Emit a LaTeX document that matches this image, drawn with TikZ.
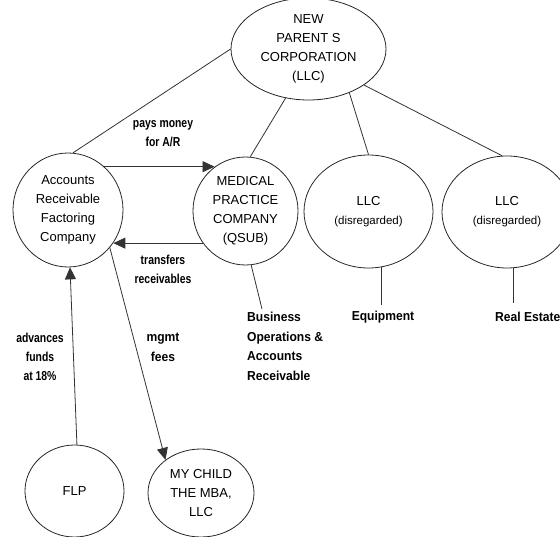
\documentclass[tikz,border=0pt]{standalone}
\usepackage{fontspec}
\setmainfont{Liberation Sans}
\newfontfamily\lblfont[FakeStretch=0.93]{Liberation Sans}
\newfontfamily\lblnarrowfont[FakeStretch=0.8]{Liberation Sans}
\usetikzlibrary{shapes.geometric,arrows.meta}

\begin{document}
\begin{tikzpicture}[x=1pt,y=-1pt,
  bubble/.style={draw=black!85, line width=0.8pt, ellipse, inner sep=0pt,
    align=center, font=\fontsize{13}{19}\selectfont},
  link/.style={draw=black!80, line width=0.8pt},
  flow/.style={link, -{Triangle[length=12pt,width=11pt]}},
  lbl/.style={font=\lblfont\bfseries\fontsize{13}{19.5}\selectfont,
    align=center, inner sep=0pt},
  lblnarrow/.style={lbl, font=\lblnarrowfont\bfseries\fontsize{13}{19}\selectfont}
]
\useasboundingbox (0,0) rectangle (560,537);
\clip (0,0) rectangle (560,537);

% entities
\node[bubble, minimum width=155pt, minimum height=102pt] (parent) at (308.5,49)
  {NEW\\PARENT S\\CORPORATION\\(LLC)};
\node[bubble, minimum width=110pt, minimum height=114pt] (arf) at (68,210)
  {Accounts\\Receivable\\Factoring\\Company};
\node[bubble, minimum width=105pt, minimum height=108pt] (med) at (245.5,211)
  {MEDICAL\\PRACTICE\\COMPANY\\(QSUB)};
\node[bubble, minimum width=129pt, minimum height=113pt] (llcA) at (368.5,211.5)
  {LLC\\\fontsize{11.5}{19}\selectfont(disregarded)};
\node[bubble, minimum width=130pt, minimum height=112pt] (llcB) at (507,212)
  {LLC\\\fontsize{11.5}{19}\selectfont(disregarded)};
\node[bubble, minimum width=99pt, minimum height=92pt] (flp) at (74.5,491) {FLP};
\node[bubble, minimum width=106pt, minimum height=88pt] (kid) at (201,493)
  {MY CHILD\\THE MBA,\\LLC};

% labels
\node[lblnarrow] (payL) at (163,133.5) {pays money\\for A/R};
\node[lblnarrow] (xferL) at (163,269.5) {transfers\\receivables};
\node[lblnarrow] (advL) at (40,357) {advances\\funds\\at 18\%};
\node[lbl] (feeL) at (163,347.5) {mgmt\\fees};
\node[lbl, align=left, anchor=west] (bus) at (247,346.5)
  {Business\\Operations \&\\Accounts\\Receivable};
\node[lbl] (equip) at (383,317) {Equipment};
\node[lbl, anchor=west] (realty) at (495,317) {Real Estate};

% ownership lines
\draw[link] (parent.west) -- (arf.85);
\draw[link] (parent.-115) -- (med.85);
\draw[link] (parent.-47) -- (llcA.north);
\draw[link] (parent.-33) -- (llcB.95);

% money and receivable flows
\draw[flow] (arf.50) -- (arf.50 -| med.125);
\draw[flow] (med.-143) -- (med.-143 -| arf.-36);
\draw[flow] (flp.87) -- (arf.-88);
\draw[flow] (arf.-42) -- (kid.137);

% asset lines
\coordinate (busTop) at (262,309);
\draw[link] (med.-84) -- (busTop);
\draw[link, shorten >=6pt] (llcA.-77) -- (llcA.-77 |- equip.north);
\draw[link, shorten >=9pt] (llcB.-84) -- (llcB.-84 |- realty.north);
\end{tikzpicture}
\end{document}
